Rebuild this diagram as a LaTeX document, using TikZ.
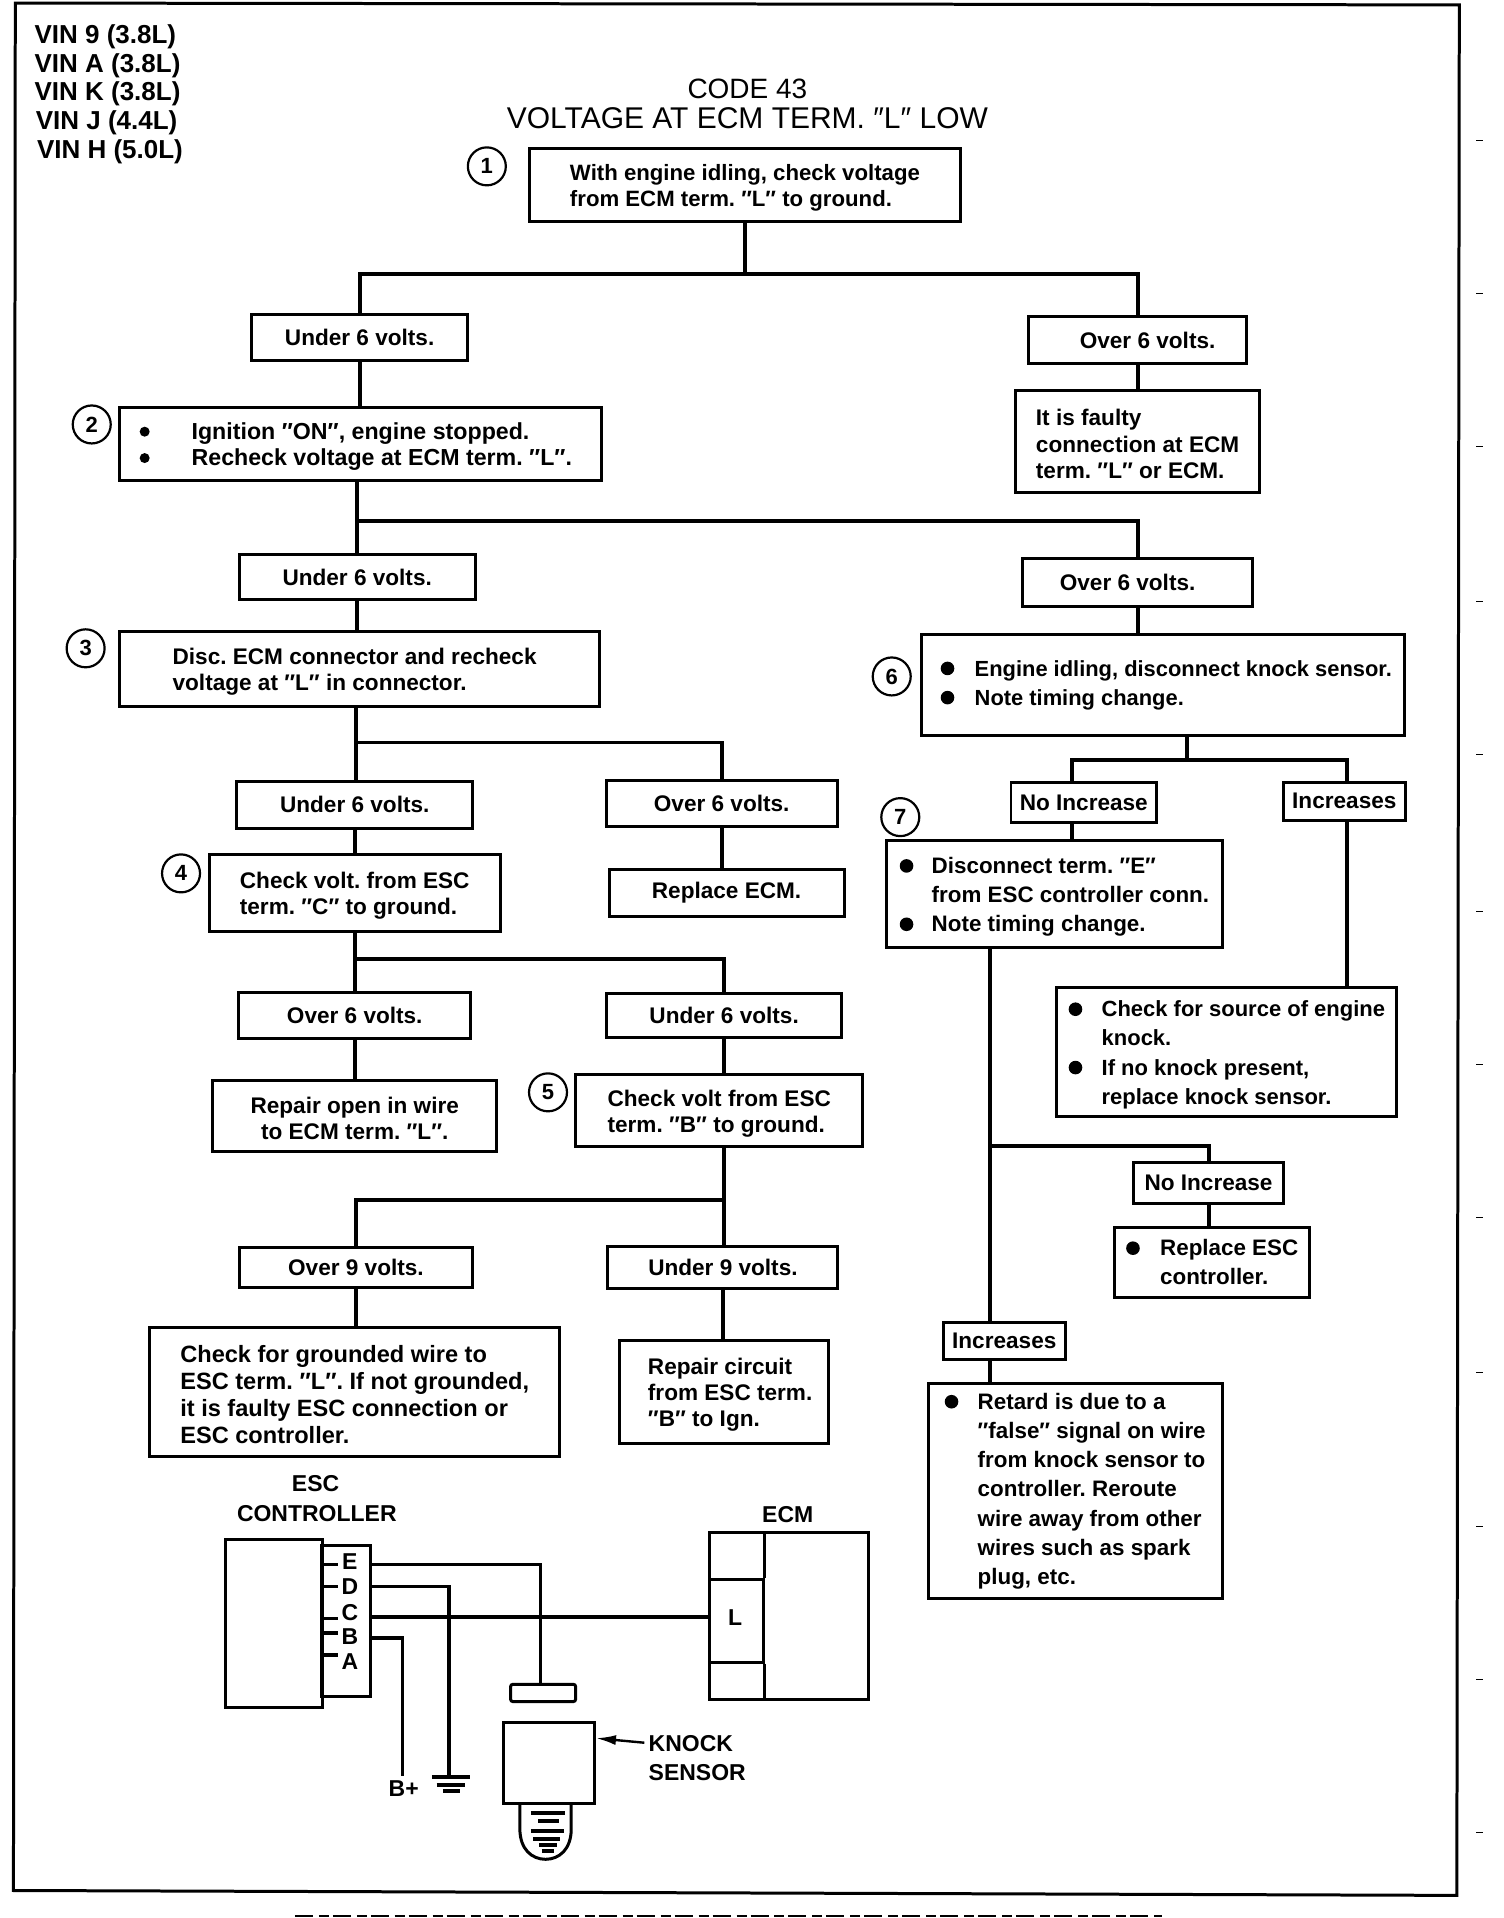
\documentclass[tikz,border=0pt]{standalone}
\usepackage{fontspec}
\setmainfont{Liberation Sans}
\usetikzlibrary{calc,arrows.meta}
\frenchspacing

\tikzset{
  flowbox/.style={draw, line width=1.5pt, align=left, inner sep=0pt, font=\bfseries\fontsize{11.3}{13.2}\selectfont},
  wideline/.style={font=\bfseries\fontsize{11.2}{14.6}\selectfont},
  size/.style 2 args={minimum width=#1*0.612pt, minimum height=#2*0.612pt},
  stepnum/.style={draw, circle, line width=1.1pt, inner sep=0pt, minimum size=19pt, font=\bfseries\fontsize{11}{13}\selectfont},
  vinlabel/.style={anchor=west, inner sep=0pt, font=\bfseries\fontsize{13}{14}\selectfont},
  titlelabel/.style={inner sep=0pt, font=\fontsize{14}{15}\selectfont},
  partlabel/.style={inner sep=0pt, font=\bfseries\fontsize{11.5}{14}\selectfont},
  wire/.style={line width=2pt},
  thinwire/.style={line width=1.7pt}
}
% #1 = bullet radius, #2 = gap to the text
\newcommand{\bul}[2][3.4pt]{\makebox[#2][l]{\tikz[baseline=-3.8pt]\fill (#1,0) circle (#1);}}
\newcommand{\nudge}[1]{\rule{#1}{0pt}}
\newcommand{\low}{\rule{0pt}{10.9pt}}

\begin{document}
\begin{tikzpicture}[x=0.612pt, y=-0.612pt]
  \useasboundingbox (0,0) rectangle (1229,1568);
  \draw[line width=1.5pt] (12.5,2.5) -- (1193,4) -- (1191,1549.5) -- (11,1545.5) -- cycle;
  \draw[line width=0.6pt] (1207,115) -- ++(5,0) (1207,240) -- ++(5,0) (1207,365) -- ++(5,0) (1207,492) -- ++(5,0)
    (1207,617) -- ++(5,0) (1207,745) -- ++(5,0) (1207,870) -- ++(5,0) (1207,995) -- ++(5,0)
    (1207,1122) -- ++(5,0) (1207,1248) -- ++(5,0) (1207,1373) -- ++(5,0) (1207,1498) -- ++(5,0);
  \draw[line width=1pt, dash pattern=on 9pt off 3pt on 5pt off 2pt] (241,1566.5) -- (950,1566.5);

  % header
  \node[vinlabel] (vin9) at (28,30) {VIN 9 (3.8L)};
  \node[vinlabel] (vina) at (28,54) {VIN A (3.8L)};
  \node[vinlabel] (vink) at (28,77) {VIN K (3.8L)};
  \node[vinlabel] (vinj) at (29,100) {VIN J (4.4L)};
  \node[vinlabel] (vinh) at (30,124) {VIN H (5.0L)};
  \node[titlelabel] (code) at (611,73) {CODE 43};
  \node[titlelabel, font=\fontsize{15}{15}\selectfont] (title) at (611,97) {VOLTAGE AT ECM TERM. ″L″ LOW};

  % left branch
  \node[flowbox, size={352}{60}, font=\bfseries\fontsize{11.1}{13.2}\selectfont] (check1) at (609,151) {\low With engine idling, check voltage\\from ECM term. ″L″ to ground.};
  \node[flowbox, size={177}{37}] (under1) at (294,276) {Under 6 volts.};
  \node[flowbox, size={178}{38}] (over1) at (930,278) {\nudge{10pt}Over 6 volts.};
  \node[flowbox, size={200}{83}] (faulty) at (930,361) {\low It is faulty\\connection at ECM\\term. ″L″ or ECM.};
  \node[flowbox, size={394}{59}, font=\bfseries\fontsize{11.6}{13.2}\selectfont] (check2) at (295,363) {\low\bul[2.5pt]{26pt}Ignition ″ON″, engine stopped.\\\bul[2.5pt]{26pt}Recheck voltage at ECM term. ″L″.\nudge{5pt}};
  \node[flowbox, size={193}{37}] (under2) at (292,472) {Under 6 volts.};
  \node[flowbox, size={188}{39}] (over2) at (930,476) {Over 6 volts.\nudge{10pt}};
  \node[flowbox, size={393}{61}] (check3) at (294,547) {\low Disc. ECM connector and recheck\nudge{5pt}\\voltage at ″L″ in connector.};
  \node[flowbox, size={193}{39}] (under3) at (290,658) {Under 6 volts.};
  \node[flowbox, size={189}{38}] (over3) at (590,657) {Over 6 volts.};
  \node[flowbox, size={192}{38}] (replecm) at (594,730) {Replace ECM.};
  \node[flowbox, size={238}{63}] (check4) at (290,730) {\low Check volt. from ESC\\term. ″C″ to ground.};
  \node[flowbox, size={190}{38}] (over4) at (290,830) {Over 6 volts.};
  \node[flowbox, size={192}{36}] (under4) at (592,830) {Under 6 volts.};
  \node[flowbox, size={232}{58}, align=center] (repair1) at (290,912) {\low Repair open in wire\\to ECM term. ″L″.};
  \node[flowbox, size={235}{59}] (check5) at (588,908) {\low Check volt from ESC\\term. ″B″ to ground.};
  \node[flowbox, size={190}{33}] (over9) at (291,1036) {Over 9 volts.};
  \node[flowbox, size={188}{34}] (under9) at (591,1036) {Under 9 volts.};
  \node[flowbox, size={335}{106}, font=\bfseries\fontsize{11.8}{13.5}\selectfont] (ground) at (290,1138) {\low Check for grounded wire to\\ESC term. ″L″. If not grounded,\\it is faulty ESC connection or\\ESC controller.};
  \node[flowbox, size={171}{84}] (repair2) at (592,1138) {\low\hspace*{6pt}Repair circuit\\\hspace*{6pt}from ESC term.\\\hspace*{6pt}″B″ to Ign.};

  % right branch
  \node[flowbox, size={395}{83}, font=\bfseries\fontsize{10.95}{14.6}\selectfont] (check6) at (951,560) {\hspace*{3pt}\bul{17pt}Engine idling, disconnect knock sensor.\\\hspace*{3pt}\bul{17pt}Note timing change.};
  \node[flowbox, size={119}{33}] (noinc1) at (886,656) {No Increase};
  \node[flowbox, size={100}{31}] (inc1) at (1099,655) {Increases};
  \node[flowbox, wideline, size={275}{87}] (check7) at (862,731) {\low\bul{16pt}Disconnect term. ″E″\\\hspace*{16pt}from ESC controller conn.\\\bul{16pt}Note timing change.};
  \node[flowbox, size={278}{106}, font=\bfseries\fontsize{11}{14.6}\selectfont] (source) at (1003,860) {\low\bul{16.5pt}Check for source of engine\\\hspace*{16.5pt}knock.\\\bul{16.5pt}If no knock present,\\\hspace*{16.5pt}replace knock sensor.};
  \node[flowbox, size={122}{33}] (noinc2) at (988,967) {No Increase};
  \node[flowbox, wideline, size={159}{57}] (replesc) at (991,1032) {\bul{17pt}Replace ESC\\\hspace*{17pt}controller.};
  \node[flowbox, size={100}{30}] (inc2) at (821,1096) {Increases};
  \node[flowbox, wideline, size={240}{176}] (retard) at (879,1219) {\bul{16.5pt}Retard is due to a\\\hspace*{16.5pt}″false″ signal on wire\\\hspace*{16.5pt}from knock sensor to\\\hspace*{16.5pt}controller. Reroute\\\hspace*{16.5pt}wire away from other\\\hspace*{16.5pt}wires such as spark\\\hspace*{16.5pt}plug, etc.};

  % step numbers
  \node[stepnum] (num1) at (398,136) {1};
  \node[stepnum] (num2) at (75,347) {2};
  \node[stepnum] (num3) at (70,530) {3};
  \node[stepnum] (num4) at (148,714) {4};
  \node[stepnum] (num5) at (448,893) {5};
  \node[stepnum] (num6) at (729,553) {6};
  \node[stepnum] (num7) at (736,668) {7};

  % junctions
  \coordinate (J1) at (609,224);
  \coordinate (J2) at (292,426);
  \coordinate (J3) at (291,607);
  \coordinate (J4) at (290,784);
  \coordinate (J5) at (592,981);
  \coordinate (J6) at (970,621);
  \coordinate (J6a) at (876,621);
  \coordinate (J6b) at (1101,621);
  \coordinate (J7) at (809,937);

  \draw[wire] (check1) -- (J1);
  \draw[wire] (under1.north) |- (J1) -| (over1.north);
  \draw[wire] (under1) -- (under1 |- check2.north);
  \draw[wire] (over1) -- (faulty);
  \draw[wire] (J2 |- check2.south) -- (J2 |- under2.north);
  \draw[wire] (J2) -| (over2.north);
  \draw[wire] (under2) -- (J2 |- check3.north);
  \draw[wire] (over2) -- (over2 |- check6.north);
  \draw[wire] (J3 |- check3.south) -- (J3 |- under3.north);
  \draw[wire] (J3) -| (over3.north);
  \draw[wire] (under3) -- (under3 |- check4.north);
  \draw[wire] (over3.south) -- (over3.south |- replecm.north);
  \draw[wire] (check4) -- (over4);
  \draw[wire] (J4) -| (under4.north);
  \draw[wire] (over4) -- (repair1);
  \draw[wire] (under4) -- (under4 |- check5.north);
  \draw[wire] (J5 |- check5.south) -- (J5 |- under9.north);
  \draw[wire] (J5) -| (over9.north);
  \draw[wire] (over9) -- (over9 |- ground.north);
  \draw[wire] (under9) -- (under9 |- repair2.north);
  \draw[wire] (J6 |- check6.south) -- (J6);
  \draw[wire] (J6a |- noinc1.north) |- (J6b) -- (J6b |- inc1.north);
  \draw[wire] (J6a |- noinc1.south) -- (J6a |- check7.north);
  \draw[wire] (J6b |- inc1.south) -- (J6b |- source.north);
  \draw[wire] (J7 |- check7.south) -- (J7 |- inc2.north);
  \draw[wire] (J7) -| (noinc2.north);
  \draw[wire] (noinc2) -- (noinc2 |- replesc.north);
  \draw[wire] (J7 |- inc2.south) -- (J7 |- retard.north);

  % ESC controller
  \node[partlabel] (esc) at (258,1213) {ESC};
  \node[partlabel] (ctrl) at (259,1237) {CONTROLLER};
  \node[draw, line width=1.5pt, size={79}{137}] (escbox) at (224,1327) {};
  \node[draw, line width=1.5pt, size={40}{123}] (escconn) at (283,1325) {};
  \node[partlabel] (pinE) at (286,1277) {E};
  \node[partlabel] (pinD) at (286,1297) {D};
  \node[partlabel] (pinC) at (286,1318) {C};
  \node[partlabel] (pinB) at (286,1338) {B};
  \node[partlabel] (pinA) at (286,1358) {A};
  \draw[thinwire] (263,1279) -- (276,1279);
  \draw[thinwire] (263,1297) -- (276,1297);
  \draw[thinwire] (263,1323) -- (276,1323);
  \draw[thinwire] (263,1335) -- (276,1335);
  \draw[thinwire] (263,1353) -- (276,1353);

  % ECM
  \node[partlabel] (ecm) at (644,1238) {ECM};
  \node[draw, line width=1.5pt, size={130}{136}] (ecmbox) at (645,1321) {};
  \node[draw, line width=1.5pt, size={44}{68}] (ecmL) at (602,1325) {};
  \node[partlabel] (termL) at (601,1322) {L};
  \draw[thinwire] (ecmL.north east) -- (ecmL.east |- ecmbox.north);
  \draw[thinwire] (ecmL.south east) -- (ecmL.east |- ecmbox.south);

  % wiring
  \node[draw, line width=1.5pt, rounded corners=1pt, size={53}{14}] (plate) at (444,1384) {};
  \node[partlabel] (bplus) at (330,1462) {B+};
  \coordinate (gnd) at (367,1453);
  \draw[thinwire] (303,1279) -| (442,1377);
  \draw[thinwire] (303,1297) -| (gnd);
  \draw[thinwire] (303,1322) -- (ecmL.west |- 0,1322);
  \draw[thinwire] (303,1339) -| (329,1452);
  \draw[wire] ($(gnd)+(-14,0)$) -- ($(gnd)+(17,0)$);
  \draw[wire] ($(gnd)+(-10,6)$) -- ($(gnd)+(13,6)$);
  \draw[wire] ($(gnd)+(-5,11)$) -- ($(gnd)+(9,11)$);

  % knock sensor
  \node[draw, line width=1.5pt, size={74}{66}] (sensor) at (449,1441) {};
  \draw[line width=1.5pt] (425,1474) -- (425,1495) .. controls (425,1512) and (435,1520) .. (446,1520) .. controls (457,1520) and (467,1512) .. (467,1495) -- (467,1474);
  \draw[wire] (434,1482) -- (462,1482);
  \draw[wire] (440,1489) -- (457,1489);
  \draw[wire] (434,1497) -- (461,1497);
  \draw[wire] (436,1503) -- (458,1503);
  \draw[wire] (441,1508) -- (455,1508);
  \draw[wire] (443,1513) -- (453,1513);
  \node[partlabel, anchor=west] (knock) at (530,1425) {KNOCK};
  \node[partlabel, anchor=west] (sens) at (530,1449) {SENSOR};
  \draw[line width=1.2pt, -{Latex[length=10pt,width=5pt]}, shorten <=2pt] (knock.west) -- (sensor.east |- 0,1421);
\end{tikzpicture}
\end{document}
